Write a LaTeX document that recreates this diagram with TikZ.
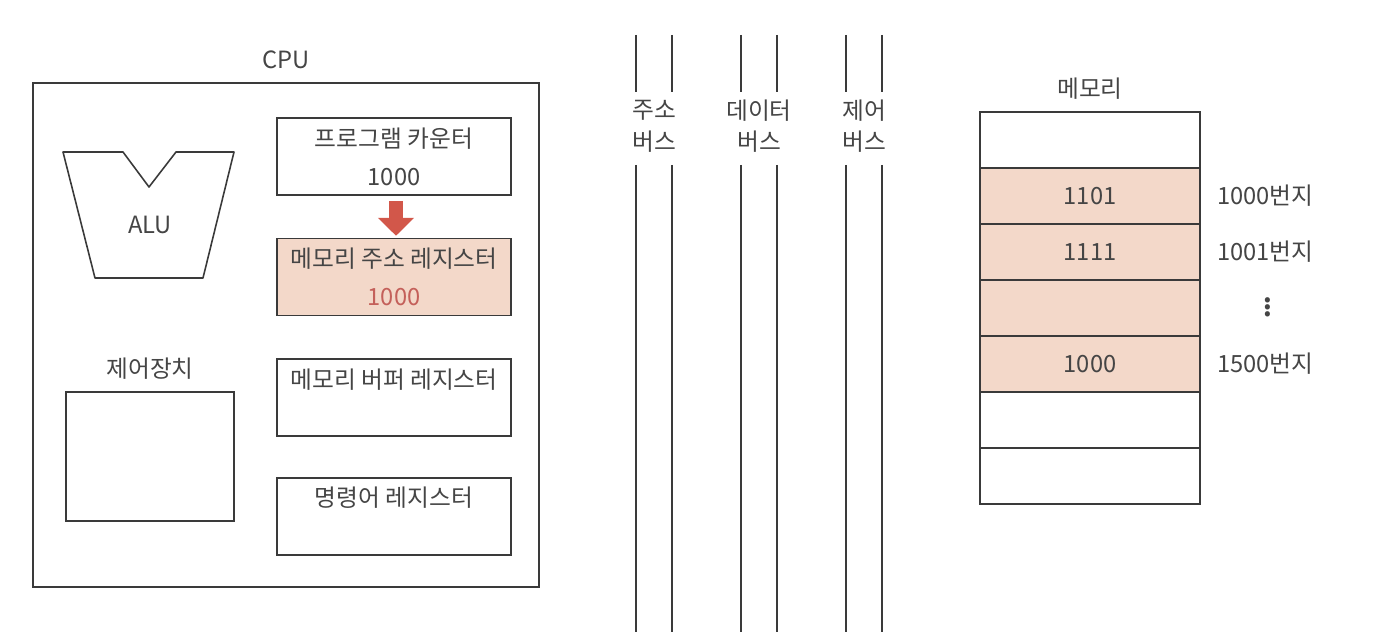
\documentclass[tikz,border=0pt]{standalone}
\usepackage{fontspec}
\setmainfont{Noto Sans CJK KR}
\usepackage{tikz}
\usetikzlibrary{arrows.meta,positioning}

\definecolor{inkgray}{HTML}{3A3A3A}
\definecolor{txtgray}{HTML}{454545}
\definecolor{peach}{HTML}{F3D8C9}
\definecolor{arrowred}{HTML}{D2574A}
\definecolor{numred}{HTML}{C4605A}

\begin{document}
\begin{tikzpicture}[
    x=0.2mm, y=-0.2mm,
    ln/.style={draw=inkgray, line width=0.9pt},
    lbl/.style={text=txtgray, font=\fontsize{13.5}{18}\selectfont},
    reg/.style={ln, minimum width=46.8mm, minimum height=15.4mm, align=center, text=txtgray, font=\fontsize{13.5}{21.6}\selectfont},
    cell/.style={ln, outer sep=0pt, minimum width=44mm, minimum height=11.2mm, text=txtgray, font=\fontsize{13.5}{14}\selectfont},
    arr/.style={-{Triangle[length=3.6mm,width=7mm]}, line width=2.8mm, draw=arrowred}
]
\useasboundingbox (0,0) rectangle (1376,632);

% CPU
\node[ln, minimum width=101.2mm, minimum height=100.8mm] (cpu) at (286,335) {};
\node[lbl, above=1.4mm of cpu] (cpulbl) {CPU};

% ALU
\draw[ln, line join=round] (63,152) -- (123,152) -- (149,187) -- (176,152) -- (234,152)
    -- (203,278) -- (95,278) -- cycle;
\node[lbl] (alu) at (150,225) {ALU};

% control unit
\node[ln, minimum width=33.6mm, minimum height=25.8mm] (ctrl) at (150,456.5) {};
\node[lbl, above=1.2mm of ctrl] (ctrllbl) {제어장치};

% registers
\node[reg] (pc) at (394,156.5) {프로그램 카운터\\1000};
\node[reg, fill=peach, below=8.4mm of pc] (mar) {메모리 주소 레지스터\\\textcolor{numred}{1000}};
\node[reg, below=8.4mm of mar] (mbr) {메모리 버퍼 레지스터\\\phantom{1000}};
\node[reg, below=8mm of mbr] (ir) {명령어 레지스터\\\phantom{1000}};

\draw[arr, shorten <=1mm, shorten >=0.4mm] ([xshift=0.4mm]pc.south) -- ([xshift=0.4mm]mar.north);

% buses
\foreach \x/\nm/\txt in {654/abus/주소, 759/dbus/데이터, 864/cbus/제어} {
    \node[lbl, align=center] (\nm) at (\x,126) {\txt\\버스};
    \draw[ln] (\x-18,35) -- (\x-18,92) (\x+18,35) -- (\x+18,92);
    \draw[ln] (\x-18,165) -- (\x-18,632) (\x+18,165) -- (\x+18,632);
}

% memory
\node[cell] (m1) at (1090,140) {};
\node[cell, fill=peach, below=0mm of m1] (m2) {1101};
\node[cell, fill=peach, below=0mm of m2] (m3) {1111};
\node[cell, fill=peach, below=0mm of m3] (m4) {};
\node[cell, fill=peach, below=0mm of m4] (m5) {1000};
\node[cell, below=0mm of m5] (m6) {};
\node[cell, below=0mm of m6] (m7) {};
\node[lbl, above=1.2mm of m1] (memlbl) {메모리};

\node[lbl, right=2.2mm of m2] (a1000) {1000번지};
\node[lbl, right=2.2mm of m3] (a1001) {1001번지};
\node[lbl, right=11.2mm of m4, yshift=1.2mm, font=\fontsize{22}{22}\selectfont] (adots) {$\vdots$};
\node[lbl, right=2.2mm of m5] (a1500) {1500번지};
\end{tikzpicture}
\end{document}
